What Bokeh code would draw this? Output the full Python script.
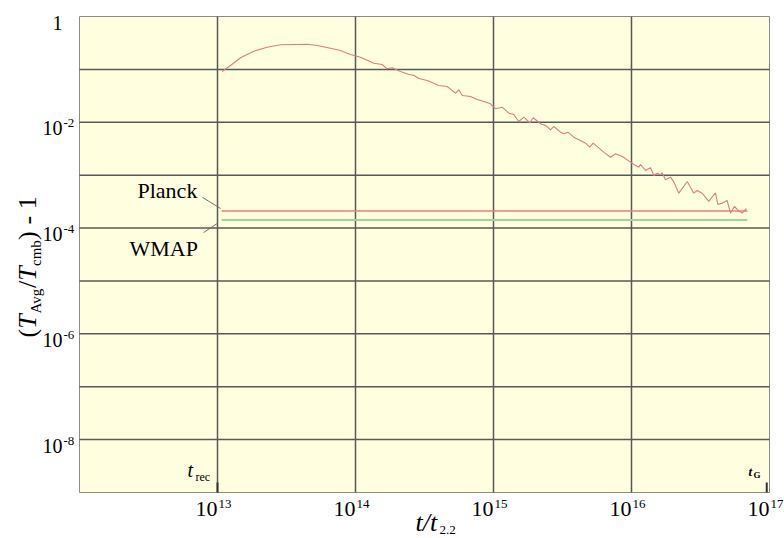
import numpy as np
from bokeh.plotting import figure
from bokeh.models import Label
from bokeh.embed import file_html
from bokeh.resources import INLINE

# ---------------- data ----------------
log_t = [13.034, 13.094, 13.167, 13.263, 13.360, 13.457, 13.553, 13.650, 13.722, 13.819,
         13.891, 13.940, 13.964, 14.036, 14.133, 14.193, 14.230, 14.266, 14.326, 14.386,
         14.422, 14.459, 14.520, 14.604, 14.664, 14.725, 14.749, 14.773, 14.833, 14.882,
         14.930, 14.978, 15.014, 15.063, 15.111, 15.147, 15.183, 15.220, 15.263, 15.288,
         15.341, 15.377, 15.413, 15.437, 15.486, 15.510, 15.539, 15.582, 15.630, 15.667,
         15.698, 15.722, 15.799, 15.848, 15.884, 15.933, 15.993, 16.017, 16.053, 16.065,
         16.101, 16.138, 16.162, 16.186, 16.210, 16.222, 16.246, 16.283, 16.307, 16.343,
         16.404, 16.451, 16.476, 16.512, 16.560, 16.609, 16.625, 16.657, 16.693, 16.717,
         16.746, 16.778, 16.802, 16.833]
log_dT = [-1.040, -0.926, -0.781, -0.656, -0.580, -0.535, -0.529, -0.524, -0.548, -0.599,
          -0.643, -0.694, -0.718, -0.769, -0.883, -0.907, -0.989, -0.970, -1.040, -1.096,
          -1.110, -1.172, -1.210, -1.304, -1.323, -1.450, -1.386, -1.493, -1.512, -1.569,
          -1.607, -1.650, -1.745, -1.715, -1.828, -1.853, -1.985, -1.904, -2.009, -1.915,
          -2.028, -2.060, -2.142, -2.079, -2.187, -2.217, -2.187, -2.282, -2.344, -2.395,
          -2.471, -2.395, -2.565, -2.660, -2.595, -2.647, -2.754, -2.798, -2.849, -2.798,
          -2.911, -2.860, -3.006, -2.962, -2.992, -2.955, -3.087, -3.038, -3.132, -3.340,
          -3.119, -3.340, -3.289, -3.340, -3.497, -3.333, -3.554, -3.529, -3.478, -3.718,
          -3.592, -3.681, -3.718, -3.635]

planck_level = 2.10e-4
wmap_level = 1.42e-4
limit_t = [10 ** 13.03, 10 ** 16.84]

t_rec = 1e13
t_G = 10 ** 16.98

x_grid = [1e13, 1e14, 1e15, 1e16]
y_grid = [1e-1, 1e-2, 1e-3, 1e-4, 1e-5, 1e-6, 1e-7, 1e-8]

x_tick_vals = [1e13, 1e14, 1e15, 1e16, 1e17]
x_tick_exp = ["13", "14", "15", "16", "17"]
y_tick_vals = [1.0, 1e-2, 1e-4, 1e-6, 1e-8]
y_tick_base = ["1", "10", "10", "10", "10"]
y_tick_exp = ["", "-2", "-4", "-6", "-8"]

X_LIM = (1e12, 1e17)
Y_LIM = (1e-9, 1.0)

FONT = "Liberation Serif"
W, H = 784, 538
FL, FR, FT, FB = 79, 769, 16, 492   # plotting box edges in canvas pixels
BASE_FIX = 0.3                       # baseline correction (fraction of font size)

# extend the ranges so the plotting box sits inside a full-canvas frame
dec_x = (FR - FL) / (np.log10(X_LIM[1]) - np.log10(X_LIM[0]))
dec_y = (FB - FT) / (np.log10(Y_LIM[1]) - np.log10(Y_LIM[0]))
x_range = (10 ** (np.log10(X_LIM[0]) - FL / dec_x), 10 ** (np.log10(X_LIM[1]) + (W - FR) / dec_x))
y_range = (10 ** (np.log10(Y_LIM[0]) - (H - FB) / dec_y), 10 ** (np.log10(Y_LIM[1]) + FT / dec_y))

p = figure(width=W, height=H, x_axis_type="log", y_axis_type="log",
           x_range=x_range, y_range=y_range, output_backend="svg",
           toolbar_location=None, x_axis_location=None, y_axis_location=None,
           min_border=0)
p.background_fill_color = "white"
p.border_fill_color = "white"
p.outline_line_color = None
p.grid.visible = False

# plotting box
p.quad(left=[X_LIM[0]], right=[X_LIM[1]], bottom=[Y_LIM[0]], top=[Y_LIM[1]],
       fill_color="#FFFFE0", line_color="#8c8c8c", line_width=1)

# decade grid
p.segment(x0=x_grid, x1=x_grid, y0=[Y_LIM[0]] * len(x_grid), y1=[Y_LIM[1]] * len(x_grid),
          line_color="#585858", line_width=1.5)
p.segment(x0=[X_LIM[0]] * len(y_grid), x1=[X_LIM[1]] * len(y_grid), y0=y_grid, y1=y_grid,
          line_color="#585858", line_width=1.5)

# curve
t_vals = [10 ** v for v in log_t]
dT_vals = [10 ** v for v in log_dT]
p.line(t_vals, dT_vals, line_color="#d9807a", line_width=1.1)

# Planck / WMAP limits
p.line(limit_t, [planck_level] * 2, line_color="#f07a78", line_width=1.4)
p.line(limit_t, [wmap_level] * 2, line_color="#9fd49a", line_width=2)

# leader lines for the two labels
p.segment(x0=[10 ** 12.891, 10 ** 12.899], y0=[10 ** -3.42, 10 ** -4.085],
          x1=[10 ** 13.022, 10 ** 13.0], y1=[10 ** -3.63, 10 ** -3.91],
          line_color="#707070", line_width=1)

# t_rec and t_G markers
p.segment(x0=[t_rec, t_G], y0=[Y_LIM[0]] * 2, x1=[t_rec, t_G], y1=[10 ** -8.81] * 2,
          line_color="#333333", line_width=2)


def lab_data(text, x, y, dx, dy, size, style="normal", align="left"):
    # dx right, dy down (pixels, to the baseline) from a data position
    p.add_layout(Label(x=x, y=y, x_offset=dx, y_offset=-(dy - BASE_FIX * size), text=text,
                       text_font=FONT, text_font_size=f"{size}px",
                       text_font_style=style, text_align=align,
                       text_baseline="alphabetic", text_color="black"))


def lab(text, cx, cy, size, style="normal", align="left", angle=0.0):
    # cx, cy: canvas pixels from top-left (baseline position)
    if angle == 0.0:
        cy = cy - BASE_FIX * size
    else:
        cx = cx - BASE_FIX * size
    p.add_layout(Label(x=float(cx), y=float(cy), x_units="canvas", y_units="canvas",
                       text=text, text_font=FONT, text_font_size=f"{size}px",
                       text_font_style=style, text_align=align,
                       text_baseline="alphabetic", angle=angle, text_color="black"))


# x tick labels
for v, e in zip(x_tick_vals, x_tick_exp):
    lab_data("10", v, Y_LIM[0], 0, 23, 22, align="right")
    lab_data(e, v, Y_LIM[0], 1, 15, 13)

# y tick labels
for v, b, e in zip(y_tick_vals, y_tick_base, y_tick_exp):
    lab_data(b, X_LIM[0], v, 62 - FL, 12, 20, align="right")
    if e:
        lab_data(e, X_LIM[0], v, 63 - FL, 5, 13)

# x axis title  t/t_2.2
lab("t/t", 415, 530, 26, style="italic")
lab("2.2", 439, 533, 13)

# y axis title (T_Avg/T_cmb) - 1, rotated
ANG = float(np.pi / 2)
main_x, sub_x = 35, 40
pieces = [("(", 337.0, 26, "normal", main_x),
          ("T", 328.3, 26, "italic", main_x),
          ("Avg", 313.0, 15, "normal", sub_x),
          ("/", 287.5, 26, "normal", main_x),
          ("T", 280.3, 26, "italic", main_x),
          ("cmb", 265.5, 15, "normal", sub_x),
          (")", 239.5, 26, "normal", main_x),
          ("- 1", 224.0, 26, "normal", main_x)]
for txt, cy, sz, st, cx in pieces:
    lab(txt, cx, cy, sz, style=st, angle=ANG)

# Planck / WMAP labels
lab("Planck", 137, 197, 22)
lab("WMAP", 129, 255, 22)

# t_rec and t_G labels
lab("t", 187, 475, 20, style="italic")
lab("rec", 195, 480, 12)
lab("t", 748, 475, 13, style="bold italic")
lab("G", 753, 477, 9, style="bold")

open("out.html", "w").write(file_html(p, INLINE))
